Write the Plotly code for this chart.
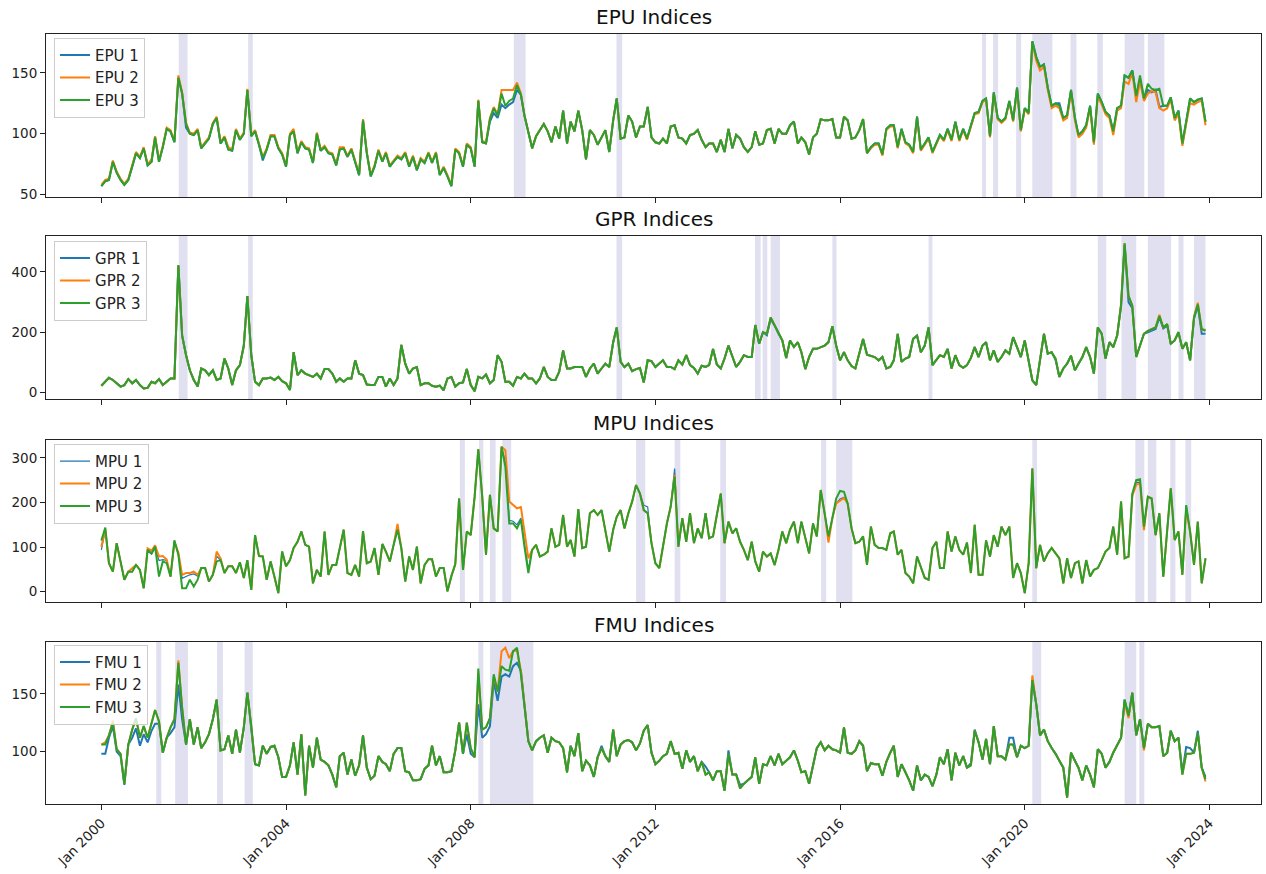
import pandas as pd
import plotly.graph_objects as go

# ---------------- data (monthly, Jan 2000 .. Dec 2023) ----------------
start_month = "2000-01-01"
n_months = 288

epu1 = [57, 61, 62, 77, 68, 62, 58, 62, 73, 84,
        80, 88, 74, 77, 97, 77, 89, 104, 102, 93,
        146, 133, 105, 100, 99, 103, 88, 92, 96, 108,
        113, 92, 97, 87, 86, 103, 95, 100, 136, 98,
        102, 91, 78, 87, 98, 98, 88, 83, 73, 99,
        102, 84, 93, 88, 87, 76, 100, 86, 89, 84,
        83, 74, 87, 88, 81, 87, 76, 66, 111, 84,
        65, 73, 86, 77, 84, 73, 77, 81, 79, 84,
        73, 81, 70, 79, 76, 84, 76, 84, 66, 72,
        65, 57, 87, 84, 73, 91, 88, 73, 127, 93,
        92, 110, 117, 113, 124, 121, 124, 126, 136, 132,
        115, 100, 88, 98, 103, 108, 102, 93, 106, 96,
        119, 92, 110, 102, 119, 103, 79, 103, 99, 91,
        97, 103, 85, 111, 129, 96, 97, 115, 110, 97,
        106, 106, 122, 97, 93, 92, 96, 92, 106, 107,
        97, 96, 92, 99, 100, 103, 95, 89, 92, 92,
        85, 95, 85, 104, 88, 99, 96, 89, 85, 89,
        102, 91, 92, 103, 104, 92, 104, 100, 100, 107,
        110, 92, 97, 93, 83, 97, 100, 112, 111, 111,
        112, 97, 97, 114, 111, 96, 97, 103, 112, 84,
        89, 92, 92, 83, 104, 107, 107, 89, 104, 93,
        91, 85, 114, 87, 92, 97, 85, 92, 99, 95,
        104, 95, 110, 95, 104, 96, 106, 117, 118, 127,
        129, 98, 134, 113, 110, 113, 127, 111, 138, 103,
        121, 118, 176, 163, 155, 157, 138, 123, 125, 125,
        113, 115, 136, 113, 99, 102, 107, 123, 93, 133,
        126, 118, 115, 102, 121, 123, 148, 146, 152, 131,
        145, 129, 136, 134, 136, 122, 123, 123, 130, 113,
        119, 92, 110, 129, 126, 128, 129, 110]

epu2 = [58, 62, 63, 78, 69, 63, 59, 63, 74, 85,
        81, 89, 75, 79, 98, 78, 90, 105, 103, 94,
        148, 134, 109, 101, 100, 104, 89, 93, 97, 109,
        114, 93, 98, 89, 87, 104, 96, 101, 137, 99,
        103, 92, 81, 88, 99, 99, 89, 84, 74, 100,
        104, 85, 94, 89, 88, 77, 101, 87, 90, 85,
        84, 75, 89, 89, 82, 88, 77, 67, 112, 85,
        66, 74, 87, 78, 85, 74, 78, 82, 80, 85,
        74, 82, 71, 80, 77, 85, 77, 85, 67, 73,
        66, 58, 88, 85, 74, 92, 89, 74, 128, 94,
        93, 113, 122, 116, 136, 136, 136, 136, 142, 133,
        115, 100, 88, 98, 103, 108, 102, 93, 106, 96,
        119, 92, 110, 102, 119, 103, 79, 103, 99, 91,
        97, 103, 85, 111, 129, 96, 97, 115, 110, 97,
        106, 106, 122, 97, 93, 92, 96, 92, 106, 107,
        97, 96, 92, 99, 100, 103, 95, 89, 92, 92,
        85, 95, 85, 104, 88, 99, 96, 89, 85, 89,
        102, 91, 92, 103, 104, 92, 104, 100, 100, 107,
        110, 92, 97, 93, 83, 97, 100, 112, 111, 111,
        112, 97, 97, 114, 111, 96, 97, 103, 112, 84,
        88, 91, 91, 82, 103, 106, 106, 88, 103, 92,
        90, 84, 113, 86, 91, 96, 84, 91, 98, 94,
        103, 94, 109, 94, 103, 95, 105, 116, 117, 126,
        128, 97, 133, 112, 109, 112, 126, 110, 137, 102,
        120, 116, 175, 160, 152, 155, 136, 121, 123, 121,
        111, 113, 134, 111, 97, 100, 105, 121, 91, 131,
        124, 116, 113, 99, 119, 121, 143, 141, 150, 126,
        143, 127, 133, 135, 134, 121, 119, 121, 128, 111,
        116, 90, 108, 125, 124, 126, 127, 107]

epu3 = [57, 61, 62, 77, 68, 62, 58, 62, 73, 84,
        80, 88, 74, 77, 97, 77, 89, 104, 102, 93,
        146, 133, 108, 100, 99, 103, 88, 92, 96, 108,
        113, 92, 97, 87, 86, 103, 95, 100, 136, 98,
        102, 91, 80, 87, 98, 98, 88, 83, 73, 99,
        102, 84, 93, 88, 87, 76, 100, 86, 89, 84,
        83, 74, 87, 88, 81, 87, 76, 66, 111, 84,
        65, 73, 86, 77, 84, 73, 77, 81, 79, 84,
        73, 81, 70, 79, 76, 84, 76, 84, 66, 72,
        65, 57, 87, 84, 73, 91, 88, 73, 127, 93,
        92, 112, 121, 115, 133, 123, 127, 129, 140, 132,
        115, 100, 88, 98, 103, 108, 102, 93, 106, 96,
        119, 92, 110, 102, 119, 103, 79, 103, 99, 91,
        97, 103, 85, 111, 129, 96, 97, 115, 110, 97,
        106, 106, 122, 97, 93, 92, 96, 92, 106, 107,
        97, 96, 92, 99, 100, 103, 95, 89, 92, 92,
        85, 95, 85, 104, 88, 99, 96, 89, 85, 89,
        102, 91, 92, 103, 104, 92, 104, 100, 100, 107,
        110, 92, 97, 93, 83, 97, 100, 112, 111, 111,
        112, 97, 97, 114, 111, 96, 97, 103, 112, 84,
        89, 92, 92, 83, 104, 107, 107, 89, 104, 93,
        91, 85, 114, 87, 92, 97, 85, 92, 99, 95,
        104, 95, 110, 95, 104, 96, 106, 117, 118, 127,
        129, 98, 134, 113, 110, 113, 127, 111, 138, 103,
        121, 117, 176, 163, 155, 157, 138, 123, 125, 123,
        113, 115, 136, 113, 99, 102, 107, 123, 93, 133,
        126, 118, 115, 102, 121, 123, 148, 146, 152, 131,
        148, 129, 141, 137, 136, 137, 123, 123, 130, 113,
        119, 92, 110, 129, 126, 128, 129, 110]

gpr1 = [23, 36, 49, 42, 31, 20, 25, 45, 31, 42,
        25, 14, 16, 36, 31, 45, 25, 36, 47, 47,
        422, 189, 124, 74, 42, 20, 80, 74, 58, 74,
        42, 47, 113, 80, 25, 74, 91, 156, 320, 124,
        36, 25, 47, 47, 50, 42, 52, 38, 31, 9,
        134, 58, 74, 63, 58, 52, 63, 47, 78, 78,
        63, 36, 47, 36, 47, 47, 107, 63, 58, 27,
        25, 25, 52, 52, 20, 47, 25, 47, 158, 96,
        63, 80, 85, 25, 31, 31, 23, 20, 23, 8,
        47, 52, 20, 31, 34, 78, 25, 5, 52, 47,
        60, 31, 42, 124, 102, 36, 36, 23, 52, 47,
        63, 47, 47, 31, 47, 85, 52, 42, 42, 69,
        140, 80, 80, 85, 85, 85, 52, 80, 96, 63,
        80, 96, 85, 167, 216, 102, 85, 96, 71, 78,
        82, 34, 107, 104, 85, 96, 107, 85, 85, 78,
        107, 93, 124, 91, 82, 63, 89, 85, 91, 145,
        93, 80, 113, 156, 118, 85, 102, 124, 118, 118,
        224, 162, 200, 190, 244, 222, 195, 173, 115, 173,
        151, 167, 134, 78, 118, 145, 145, 151, 156, 167,
        220, 156, 107, 134, 107, 88, 80, 130, 178, 126,
        122, 118, 107, 118, 80, 85, 107, 195, 102, 113,
        118, 178, 189, 134, 156, 216, 91, 107, 124, 118,
        145, 80, 124, 91, 82, 91, 115, 151, 118, 156,
        167, 107, 140, 102, 118, 140, 129, 184, 151, 118,
        173, 102, 41, 25, 113, 195, 129, 134, 108, 52,
        80, 96, 122, 74, 96, 118, 151, 118, 63, 216,
        195, 113, 167, 151, 189, 285, 490, 300, 280, 118,
        156, 195, 200, 206, 211, 249, 213, 222, 162, 173,
        200, 145, 167, 107, 245, 288, 195, 195]

gpr2 = [23, 36, 49, 42, 31, 20, 25, 45, 31, 42,
        25, 14, 16, 36, 31, 45, 25, 36, 47, 47,
        422, 189, 124, 74, 42, 20, 80, 74, 58, 74,
        42, 47, 113, 80, 25, 74, 91, 156, 320, 124,
        36, 25, 47, 47, 50, 42, 52, 38, 31, 9,
        134, 58, 74, 63, 58, 52, 63, 47, 78, 78,
        63, 36, 47, 36, 47, 47, 107, 63, 58, 27,
        25, 25, 52, 52, 20, 47, 25, 47, 158, 96,
        63, 80, 85, 25, 31, 31, 23, 20, 23, 8,
        47, 52, 20, 31, 34, 78, 25, 5, 52, 47,
        60, 31, 42, 124, 102, 36, 36, 23, 52, 47,
        63, 47, 47, 31, 47, 85, 52, 42, 42, 69,
        140, 80, 80, 85, 85, 85, 52, 80, 96, 63,
        80, 96, 85, 167, 216, 102, 85, 96, 71, 78,
        82, 34, 107, 104, 85, 96, 107, 85, 85, 78,
        107, 93, 124, 91, 82, 63, 89, 85, 91, 145,
        93, 80, 113, 156, 118, 85, 102, 124, 118, 118,
        224, 162, 200, 195, 249, 222, 195, 173, 115, 173,
        151, 167, 134, 78, 118, 145, 145, 151, 156, 167,
        220, 156, 107, 134, 107, 88, 80, 130, 178, 126,
        122, 118, 107, 118, 80, 85, 107, 195, 102, 113,
        118, 178, 189, 134, 156, 216, 91, 107, 124, 118,
        145, 80, 124, 91, 82, 91, 115, 151, 118, 156,
        167, 107, 140, 102, 118, 140, 129, 184, 151, 118,
        173, 102, 41, 25, 113, 195, 129, 134, 113, 52,
        80, 96, 122, 74, 96, 118, 151, 118, 63, 216,
        195, 113, 167, 151, 189, 292, 495, 321, 288, 118,
        156, 195, 205, 211, 216, 258, 216, 227, 162, 173,
        200, 145, 167, 107, 252, 298, 208, 208]

gpr3 = [23, 36, 49, 42, 31, 20, 25, 45, 31, 42,
        25, 14, 16, 36, 31, 45, 25, 36, 47, 47,
        422, 189, 124, 74, 42, 20, 80, 74, 58, 74,
        42, 47, 113, 80, 25, 74, 91, 156, 320, 124,
        36, 25, 47, 47, 50, 42, 52, 38, 31, 9,
        134, 58, 74, 63, 58, 52, 63, 47, 78, 78,
        63, 36, 47, 36, 47, 47, 107, 63, 58, 27,
        25, 25, 52, 52, 20, 47, 25, 47, 158, 96,
        63, 80, 85, 25, 31, 31, 23, 20, 23, 8,
        47, 52, 20, 31, 34, 78, 25, 5, 52, 47,
        60, 31, 42, 124, 102, 36, 36, 23, 52, 47,
        63, 47, 47, 31, 47, 85, 52, 42, 42, 69,
        140, 80, 80, 85, 85, 85, 52, 80, 96, 63,
        80, 96, 85, 167, 216, 102, 85, 96, 71, 78,
        82, 34, 107, 104, 85, 96, 107, 85, 85, 78,
        107, 93, 124, 91, 82, 63, 89, 85, 91, 145,
        93, 80, 113, 156, 118, 85, 102, 124, 118, 118,
        224, 162, 200, 195, 249, 222, 195, 173, 115, 173,
        151, 167, 134, 78, 118, 145, 145, 151, 156, 167,
        220, 156, 107, 134, 107, 88, 80, 130, 178, 126,
        122, 118, 107, 118, 80, 85, 107, 195, 102, 113,
        118, 178, 189, 134, 156, 216, 91, 107, 124, 118,
        145, 80, 124, 91, 82, 91, 115, 151, 118, 156,
        167, 107, 140, 102, 118, 140, 129, 184, 151, 118,
        173, 102, 41, 25, 113, 195, 129, 134, 113, 52,
        80, 96, 122, 74, 96, 118, 151, 118, 63, 216,
        195, 113, 167, 151, 189, 292, 495, 321, 288, 118,
        156, 195, 205, 211, 216, 254, 216, 227, 162, 173,
        200, 145, 167, 107, 249, 292, 211, 205]

mpu1 = [94, 138, 64, 45, 109, 68, 27, 45, 45, 60,
        49, 8, 92, 84, 98, 70, 72, 70, 34, 115,
        83, 30, 34, 38, 40, 35, 53, 53, 23, 38,
        80, 71, 42, 57, 57, 42, 66, 31, 71, 4,
        127, 80, 79, 27, 68, 34, -3, 90, 57, 71,
        98, 112, 135, 105, 101, 19, 49, 34, 135, 38,
        60, 60, 101, 139, 42, 38, 60, 34, 136, 64,
        68, 98, 38, 107, 90, 68, 105, 139, 98, 23,
        79, 49, 101, 19, 60, 73, 73, 34, 53, 53,
        1, 35, 62, 209, 49, 135, 127, 213, 319, 213,
        83, 217, 142, 135, 325, 290, 160, 158, 150, 165,
        108, 50, 94, 105, 79, 83, 90, 142, 101, 105,
        172, 101, 116, 79, 185, 98, 101, 176, 183, 172,
        183, 139, 90, 139, 168, 183, 142, 176, 202, 239,
        220, 194, 190, 109, 64, 53, 101, 153, 191, 276,
        101, 165, 112, 176, 109, 142, 120, 176, 120, 124,
        172, 220, 109, 157, 131, 142, 112, 94, 71, 112,
        68, 45, 90, 79, 86, 60, 94, 135, 109, 139,
        157, 109, 157, 124, 86, 153, 124, 228, 176, 124,
        165, 198, 208, 212, 198, 142, 109, 112, 124, 60,
        146, 105, 98, 98, 94, 131, 135, 83, 94, 42,
        34, 19, 79, 57, 31, 27, 98, 112, 53, 53,
        135, 90, 124, 94, 83, 110, 42, 150, 38, 38,
        115, 79, 127, 101, 146, 127, 146, 31, 64, 42,
        -3, 64, 276, 53, 105, 68, 86, 98, 86, 75,
        19, 75, 31, 64, 68, 19, 71, 34, 49, 53,
        71, 90, 98, 146, 83, 202, 75, 79, 220, 245,
        245, 146, 213, 209, 127, 176, 34, 131, 232, 116,
        135, 38, 194, 135, 60, 157, 19, 75]

mpu2 = [101, 140, 64, 45, 109, 68, 27, 45, 52, 60,
        49, 8, 97, 92, 104, 79, 80, 72, 34, 112,
        88, 38, 42, 42, 45, 38, 53, 53, 23, 38,
        90, 75, 42, 57, 57, 42, 66, 31, 71, 4,
        127, 80, 79, 27, 68, 34, -3, 90, 57, 71,
        98, 112, 135, 105, 101, 19, 49, 34, 135, 38,
        60, 60, 101, 139, 42, 38, 60, 34, 136, 64,
        68, 98, 38, 107, 90, 68, 105, 152, 98, 23,
        79, 49, 101, 19, 60, 73, 73, 34, 53, 53,
        1, 35, 62, 209, 49, 135, 127, 213, 319, 213,
        83, 217, 142, 135, 325, 317, 202, 195, 187, 190,
        130, 75, 94, 105, 79, 83, 90, 142, 101, 105,
        172, 101, 116, 79, 185, 98, 101, 176, 183, 172,
        183, 139, 90, 139, 168, 183, 142, 176, 202, 239,
        220, 183, 176, 109, 64, 53, 101, 153, 191, 262,
        101, 165, 112, 176, 109, 142, 120, 176, 120, 124,
        172, 220, 109, 157, 131, 142, 112, 94, 71, 112,
        68, 45, 90, 79, 86, 60, 94, 135, 109, 139,
        157, 109, 157, 124, 86, 153, 124, 228, 176, 110,
        165, 198, 204, 210, 198, 142, 109, 112, 124, 60,
        146, 105, 98, 98, 94, 131, 135, 83, 94, 42,
        34, 19, 79, 57, 31, 27, 98, 112, 53, 53,
        135, 90, 124, 94, 83, 110, 42, 150, 38, 38,
        115, 79, 127, 101, 146, 127, 146, 31, 64, 42,
        -3, 64, 276, 53, 105, 68, 86, 98, 86, 75,
        19, 75, 31, 64, 68, 19, 71, 34, 49, 53,
        71, 90, 98, 146, 83, 202, 75, 79, 215, 240,
        242, 138, 213, 209, 127, 176, 34, 131, 232, 116,
        135, 38, 185, 135, 60, 157, 19, 75]

mpu3 = [115, 144, 64, 45, 109, 68, 27, 45, 45, 60,
        49, 8, 94, 86, 101, 34, 68, 64, 34, 115,
        83, 8, 8, 27, 12, 27, 53, 53, 23, 38,
        68, 71, 42, 57, 57, 42, 66, 31, 71, 4,
        127, 80, 79, 27, 68, 34, -3, 90, 57, 71,
        98, 112, 135, 105, 101, 19, 49, 34, 135, 38,
        60, 60, 101, 139, 42, 38, 60, 34, 136, 64,
        68, 98, 38, 107, 90, 68, 105, 139, 98, 23,
        79, 49, 101, 19, 60, 73, 73, 34, 53, 53,
        1, 35, 62, 209, 49, 135, 127, 213, 319, 213,
        83, 217, 142, 135, 325, 280, 153, 153, 142, 161,
        101, 42, 94, 105, 79, 83, 90, 142, 101, 105,
        172, 101, 116, 79, 185, 98, 101, 176, 183, 172,
        183, 139, 90, 139, 168, 183, 142, 176, 202, 239,
        220, 183, 176, 109, 64, 53, 101, 153, 191, 258,
        101, 165, 112, 176, 109, 142, 120, 176, 120, 124,
        172, 220, 109, 157, 131, 142, 112, 94, 71, 112,
        68, 45, 90, 79, 86, 60, 94, 135, 109, 139,
        157, 109, 157, 124, 86, 153, 124, 228, 176, 124,
        165, 209, 226, 224, 198, 142, 109, 112, 124, 60,
        146, 105, 98, 98, 94, 131, 135, 83, 94, 42,
        34, 19, 79, 57, 31, 27, 98, 112, 53, 53,
        135, 90, 124, 94, 83, 110, 42, 150, 38, 38,
        115, 79, 127, 101, 146, 127, 146, 31, 64, 42,
        -3, 64, 276, 53, 105, 68, 86, 98, 86, 75,
        19, 75, 31, 64, 68, 19, 71, 34, 49, 53,
        71, 90, 98, 146, 83, 202, 75, 79, 220, 250,
        252, 146, 213, 209, 127, 176, 34, 131, 232, 116,
        135, 38, 194, 135, 60, 157, 19, 75]

fmu1 = [98, 98, 112, 122, 100, 96, 71, 106, 112, 120,
        105, 115, 108, 118, 124, 124, 99, 112, 116, 121,
        158, 128, 106, 128, 106, 121, 103, 108, 115, 128,
        145, 101, 102, 114, 98, 119, 99, 121, 151, 122,
        89, 88, 105, 98, 104, 105, 95, 78, 78, 88,
        108, 80, 115, 62, 105, 86, 112, 93, 91, 88,
        80, 69, 96, 99, 80, 93, 79, 88, 114, 86,
        76, 79, 96, 91, 89, 83, 98, 103, 103, 83,
        82, 75, 75, 76, 85, 88, 105, 88, 96, 82,
        82, 83, 101, 125, 98, 115, 98, 95, 141, 112,
        115, 122, 161, 144, 165, 167, 165, 174, 177, 170,
        138, 109, 101, 109, 112, 114, 99, 112, 109, 108,
        103, 82, 105, 96, 116, 83, 92, 88, 78, 95,
        105, 96, 91, 119, 96, 106, 109, 110, 108, 101,
        107, 118, 123, 99, 89, 92, 96, 98, 109, 98,
        99, 85, 101, 91, 96, 83, 91, 87, 82, 75,
        83, 83, 66, 101, 80, 80, 71, 72, 75, 78,
        95, 72, 89, 88, 96, 88, 98, 89, 92, 95,
        101, 92, 82, 83, 72, 89, 103, 108, 101, 105,
        102, 101, 99, 121, 99, 98, 101, 109, 105, 83,
        90, 89, 89, 79, 91, 99, 105, 78, 89, 82,
        75, 66, 88, 75, 80, 78, 70, 80, 95, 89,
        102, 75, 99, 88, 96, 86, 90, 119, 108, 93,
        111, 89, 122, 96, 96, 93, 112, 112, 95, 105,
        103, 105, 162, 141, 114, 119, 109, 103, 98, 92,
        86, 60, 99, 92, 86, 75, 88, 80, 69, 102,
        98, 86, 91, 99, 106, 112, 145, 131, 151, 114,
        128, 103, 124, 121, 121, 122, 96, 99, 118, 109,
        112, 82, 104, 103, 99, 118, 86, 78]

fmu2 = [106, 108, 114, 127, 102, 98, 72, 106, 119, 129,
        112, 122, 112, 124, 136, 126, 99, 112, 121, 128,
        179, 138, 106, 128, 106, 121, 103, 108, 115, 128,
        145, 101, 102, 114, 98, 119, 99, 121, 151, 122,
        89, 88, 105, 98, 104, 105, 95, 78, 78, 88,
        108, 80, 115, 62, 105, 86, 112, 93, 91, 88,
        80, 69, 96, 99, 80, 93, 79, 88, 114, 86,
        76, 79, 96, 91, 89, 83, 98, 103, 103, 83,
        82, 75, 75, 76, 85, 88, 105, 88, 96, 82,
        82, 83, 101, 125, 98, 125, 103, 95, 168, 119,
        121, 129, 165, 152, 187, 190, 181, 187, 188, 170,
        141, 109, 101, 109, 112, 114, 99, 112, 109, 108,
        103, 82, 105, 96, 116, 83, 92, 88, 78, 95,
        103, 96, 91, 119, 96, 106, 109, 110, 108, 101,
        107, 118, 123, 99, 89, 92, 96, 98, 109, 98,
        99, 85, 101, 91, 96, 83, 91, 80, 82, 75,
        83, 83, 66, 98, 80, 80, 68, 72, 75, 78,
        95, 72, 89, 88, 96, 88, 98, 89, 92, 95,
        101, 92, 82, 83, 72, 89, 103, 108, 101, 105,
        102, 101, 99, 121, 99, 98, 101, 109, 105, 83,
        90, 89, 89, 79, 91, 99, 105, 78, 89, 82,
        75, 66, 88, 75, 80, 78, 70, 80, 95, 89,
        102, 75, 99, 88, 96, 86, 88, 118, 108, 93,
        111, 89, 122, 96, 96, 93, 106, 106, 95, 105,
        103, 105, 166, 141, 114, 119, 109, 103, 98, 92,
        86, 60, 99, 92, 86, 75, 88, 80, 69, 102,
        98, 86, 91, 99, 106, 112, 142, 129, 151, 114,
        128, 101, 124, 121, 121, 122, 96, 99, 118, 109,
        112, 80, 98, 98, 99, 116, 86, 74]

fmu3 = [106, 106, 114, 125, 102, 98, 72, 106, 119, 129,
        112, 122, 112, 124, 136, 126, 99, 112, 121, 128,
        177, 138, 106, 128, 106, 121, 103, 108, 115, 128,
        145, 101, 102, 114, 98, 119, 99, 121, 151, 122,
        89, 88, 105, 98, 104, 105, 95, 78, 78, 88,
        108, 80, 115, 62, 105, 86, 112, 93, 91, 88,
        80, 69, 96, 99, 80, 93, 79, 88, 114, 86,
        76, 79, 96, 91, 89, 83, 98, 103, 103, 83,
        82, 75, 75, 76, 85, 88, 105, 88, 96, 82,
        82, 83, 101, 125, 98, 125, 103, 95, 172, 119,
        121, 129, 167, 152, 174, 171, 170, 187, 190, 167,
        141, 109, 101, 109, 112, 114, 99, 112, 109, 108,
        103, 82, 105, 96, 116, 83, 92, 88, 78, 95,
        103, 96, 91, 119, 96, 106, 109, 110, 108, 101,
        107, 118, 123, 99, 89, 92, 96, 98, 109, 98,
        99, 85, 101, 91, 96, 83, 91, 80, 82, 75,
        83, 83, 66, 98, 80, 80, 68, 72, 75, 78,
        95, 72, 89, 88, 96, 88, 98, 89, 92, 95,
        101, 92, 82, 83, 72, 89, 103, 108, 101, 105,
        102, 101, 99, 121, 99, 98, 101, 109, 105, 83,
        90, 89, 89, 79, 91, 99, 105, 78, 89, 82,
        75, 66, 88, 75, 80, 78, 70, 80, 95, 89,
        102, 75, 99, 88, 96, 86, 88, 118, 108, 93,
        111, 89, 122, 96, 96, 93, 106, 106, 95, 105,
        103, 105, 162, 141, 114, 119, 109, 103, 98, 92,
        86, 60, 99, 92, 86, 75, 88, 80, 69, 102,
        98, 86, 91, 99, 106, 112, 145, 131, 151, 114,
        128, 103, 124, 121, 121, 122, 96, 99, 118, 109,
        112, 80, 98, 98, 99, 116, 86, 76]

# shaded episodes per panel (start, end)
epu_spans = [("2001-09-04", "2001-11-13"), ("2003-03-07", "2003-04-13"),
             ("2008-12-07", "2009-03-10"), ("2011-02-27", "2011-04-13"),
             ("2019-01-28", "2019-03-01"), ("2019-04-25", "2019-06-04"),
             ("2019-10-25", "2019-12-04"), ("2020-03-01", "2020-08-07"),
             ("2020-12-28", "2021-02-13"), ("2021-07-28", "2021-09-10"),
             ("2022-03-01", "2022-08-04"), ("2022-09-01", "2023-01-10")]
gpr_spans = [("2001-09-04", "2001-11-13"), ("2003-03-07", "2003-04-13"),
             ("2011-02-27", "2011-04-13"), ("2014-02-27", "2014-04-13"),
             ("2014-04-28", "2014-06-04"), ("2014-07-01", "2014-09-13"),
             ("2015-11-01", "2015-12-04"), ("2017-12-01", "2018-01-01"),
             ("2021-08-01", "2021-10-07"), ("2022-02-04", "2022-06-01"),
             ("2022-09-01", "2023-03-04"), ("2023-05-01", "2023-06-10"),
             ("2023-09-01", "2023-12-01")]
mpu_spans = [("2007-10-07", "2007-11-16"), ("2008-03-07", "2008-04-10"),
             ("2008-06-01", "2008-07-16"), ("2008-09-07", "2008-11-16"),
             ("2011-08-01", "2011-10-13"), ("2012-06-01", "2012-07-16"),
             ("2013-05-28", "2013-07-13"), ("2015-08-04", "2015-09-13"),
             ("2015-12-01", "2016-04-07"), ("2020-03-01", "2020-04-07"),
             ("2022-05-25", "2022-08-04"), ("2022-09-01", "2022-11-07"),
             ("2023-02-25", "2023-04-07"), ("2023-06-25", "2023-08-10")]
fmu_spans = [("2001-03-10", "2001-04-19"), ("2001-08-07", "2001-11-16"),
             ("2002-07-04", "2002-08-19"), ("2003-02-07", "2003-04-13"),
             ("2008-03-01", "2008-04-10"), ("2008-06-01", "2009-05-10"),
             ("2020-03-01", "2020-05-10"), ("2022-03-01", "2022-06-01"),
             ("2022-06-25", "2022-08-04")]

tick_dates = ["2000-01-01", "2004-01-01", "2008-01-01", "2012-01-01",
              "2016-01-01", "2020-01-01", "2024-01-01"]
tick_labels = ["Jan 2000", "Jan 2004", "Jan 2008", "Jan 2012",
               "Jan 2016", "Jan 2020", "Jan 2024"]

# ---------------- figure ----------------
dates = pd.date_range(start_month, periods=n_months, freq="MS")
colors = ["#1f77b4", "#ff7f0e", "#2ca02c"]
FONT = "DejaVu Sans"

panels = [
    dict(name="EPU", series=[epu1, epu2, epu3], spans=epu_spans,
         domain=[0.7883, 1.0], yrange=[48, 182], ticks=[50, 100, 150], leg_y=0.995),
    dict(name="GPR", series=[gpr1, gpr2, gpr3], spans=gpr_spans,
         domain=[0.526, 0.7377], yrange=[-21, 519], ticks=[0, 200, 400], leg_y=0.7314),
    dict(name="MPU", series=[mpu1, mpu2, mpu3], spans=mpu_spans,
         domain=[0.2623, 0.4727], yrange=[-23, 340], ticks=[0, 100, 200, 300], leg_y=0.4677),
    dict(name="FMU", series=[fmu1, fmu2, fmu3], spans=fmu_spans,
         domain=[0.0, 0.2104], yrange=[54.5, 195], ticks=[100, 150], leg_y=0.2067),
]

fig = go.Figure()
layout = dict(
    width=1266, height=874,
    margin=dict(l=46, r=5, t=34, b=70),
    paper_bgcolor="white", plot_bgcolor="white",
    font=dict(family=FONT, size=13, color="#222"),
    showlegend=True,
    annotations=[], shapes=[],
)

xrange = ["1998-10-20", "2025-02-12"]

for i, p in enumerate(panels):
    k = i + 1
    sfx = "" if k == 1 else str(k)
    leg = "legend" if k == 1 else f"legend{k}"
    for j, s in enumerate(p["series"]):
        width = 1.2 if (p["name"] == "MPU" and j == 0) else 2
        fig.add_trace(go.Scatter(
            x=dates, y=s, mode="lines", name=f"{p['name']} {j+1}",
            line=dict(color=colors[j], width=width),
            xaxis=f"x{sfx}", yaxis=f"y{sfx}", legend=leg,
        ))
    layout[f"xaxis{sfx}"] = dict(
        domain=[0, 1], anchor=f"y{sfx}", type="date", range=xrange,
        tickvals=tick_dates, ticktext=tick_labels,
        showticklabels=(k == 4), tickangle=-45,
        ticks="outside", ticklen=5, tickcolor="#222",
        showline=True, linecolor="#222", linewidth=1, mirror=True,
        showgrid=False, zeroline=False,
        tickfont=dict(family=FONT, size=13.5, color="#222"),
    )
    layout[f"yaxis{sfx}"] = dict(
        domain=p["domain"], anchor=f"x{sfx}", range=p["yrange"],
        tickvals=p["ticks"], ticks="outside", ticklen=5, tickcolor="#222",
        showline=True, linecolor="#222", linewidth=1, mirror=True,
        showgrid=False, zeroline=False,
        tickfont=dict(family=FONT, size=13.5, color="#222"),
    )
    layout[leg] = dict(
        x=0.0066, y=p["leg_y"], xanchor="left", yanchor="top",
        bgcolor="rgba(255,255,255,0.8)", bordercolor="#cccccc", borderwidth=1,
        font=dict(family=FONT, size=15, color="#222"),
        tracegroupgap=0,
    )
    layout["annotations"].append(dict(
        text=f"{p['name']} Indices", xref="paper", yref="paper",
        x=0.5, y=p["domain"][1], xanchor="center", yanchor="bottom",
        yshift=3, showarrow=False,
        font=dict(family=FONT, size=20, color="#111"),
    ))
    for (a, b) in p["spans"]:
        layout["shapes"].append(dict(
            type="rect", xref=f"x{sfx}", yref=f"y{sfx} domain",
            x0=a, x1=b, y0=0, y1=1, fillcolor="rgba(0,0,128,0.12)",
            line=dict(width=0), layer="below",
        ))

fig.update_layout(**layout)
fig.write_html("out.html")
